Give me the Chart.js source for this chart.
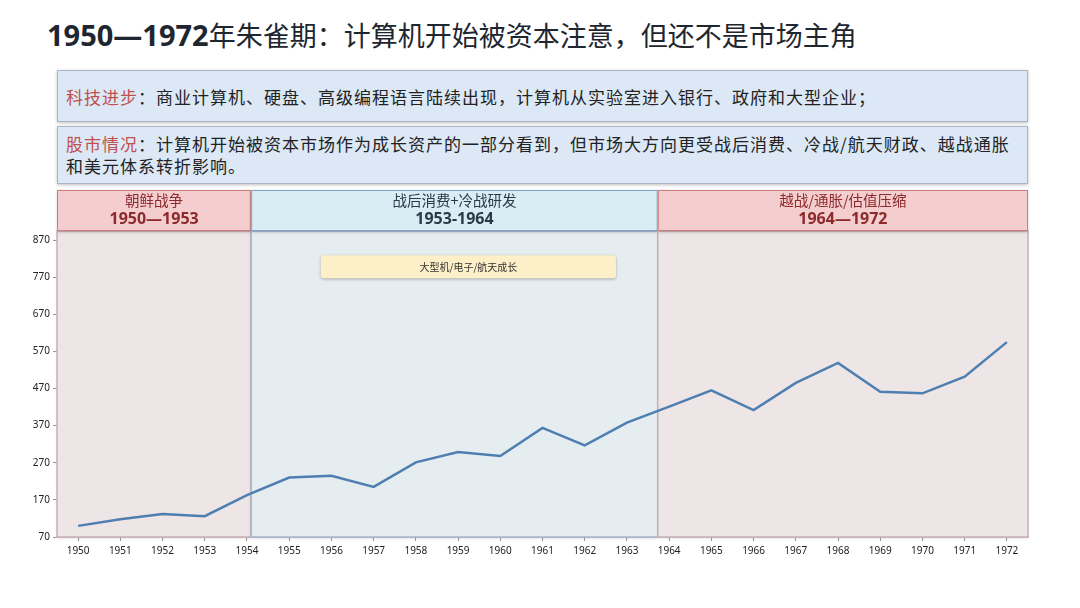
<!DOCTYPE html>
<html>
<head>
<meta charset="utf-8">
<script src="https://cdn.jsdelivr.net/npm/chart.js@4.4.1/dist/chart.umd.min.js"></script>
<style>
  body { margin: 0; width: 1080px; height: 608px; background: #fff; font-family: "Noto Sans CJK SC", "Noto Sans", sans-serif; position: relative; overflow: hidden; }
  .title { position: absolute; left: 47px; top: 15px; font-size: 27px; color: #1e2630; white-space: nowrap; }
  .title b { font-family: "Noto Sans", sans-serif; font-weight: 700; font-size: 29px; }
  .box { position: absolute; left: 57px; width: 971px; background: #dce8f5; border: 1px solid #a9b7c5; box-shadow: 0 1px 3px rgba(0,0,0,0.25); box-sizing: border-box; font-size: 17px; letter-spacing: 1px; color: #222; padding-left: 8px; white-space: nowrap; }
  .box .k { color: #c0504d; }
  #box1 { top: 70px; height: 52px; line-height: 52px; }
  #box2 { top: 126px; height: 58px; line-height: 22px; padding-top: 6px; }
  #wrap { position: absolute; left: 0; top: 185px; width: 1080px; height: 423px; }
</style>
</head>
<body>
<div class="title"><b>1950—1972</b>年朱雀期：计算机开始被资本注意，但还不是市场主角</div>
<div class="box" id="box1"><span class="k">科技进步</span>：商业计算机、硬盘、高级编程语言陆续出现，计算机从实验室进入银行、政府和大型企业；</div>
<div class="box" id="box2"><span class="k">股市情况</span>：计算机开始被资本市场作为成长资产的一部分看到，但市场大方向更受战后消费、冷战/航天财政、越战通胀<br>和美元体系转折影响。</div>
<div id="wrap"><canvas id="myChart"></canvas></div>
<script>
const years = ['1950','1951','1952','1953','1954','1955','1956','1957','1958','1959','1960','1961',
               '1962','1963','1964','1965','1966','1967','1968','1969','1970','1971','1972'];
const index = [100, 118, 132, 126, 183, 230, 235, 205, 271, 299, 288, 364,
               317, 378, 421, 465, 412, 485, 539, 461, 457, 502, 595];
const yTicks = [70, 170, 270, 370, 470, 570, 670, 770, 870];

// phases (category index units)
const bandNames = ['朝鲜战争', '战后消费+冷战研发', '越战/通胀/估值压缩'];
const bandYears = ['1950—1953', '1953-1964', '1964—1972'];
const bandFrom = [-0.5, 4.1, 13.73];
const bandTo = [4.1, 13.73, 22.5];
const bandKind = ['red', 'blue', 'red'];

const noteText = ['大型机/电子/航天成长'];
const noteX = [5.75, 12.74];
const noteY = [829, 767];

const palette = {
    red:  { fill: '#ede5e6', edge: '#c8b1b6', head: '#f4cdce', headEdge: '#cf7c7e', text: '#8c2a2c' },
    blue: { fill: '#e6edf0', edge: '#a8b5cd', head: '#d9edf4', headEdge: '#7fa5c6', text: '#2c3a48' }
};

const phasePlugin = {
    id: 'phases',
    beforeDatasetsDraw(chart) {
        const { ctx, chartArea: a, scales: { x, y } } = chart;
        const bTop = a.top - 9;
        ctx.save();
        bandFrom.forEach((f, i) => {
            const c = palette[bandKind[i]];
            const x0 = x.getPixelForValue(f), x1 = x.getPixelForValue(bandTo[i]);
            ctx.shadowColor = 'rgba(0,0,0,0.18)';
            ctx.shadowBlur = 3;
            ctx.shadowOffsetY = 1;
            ctx.fillStyle = c.fill;
            ctx.fillRect(x0, bTop, x1 - x0, a.bottom - bTop);
            ctx.shadowColor = 'transparent';
            ctx.strokeStyle = c.edge;
            ctx.lineWidth = 1.5;
            ctx.strokeRect(x0, bTop, x1 - x0, a.bottom - bTop);

            // header
            const h = 41, top = bTop - h;
            ctx.shadowColor = 'rgba(0,0,0,0.25)';
            ctx.shadowBlur = 3;
            ctx.shadowOffsetY = 1;
            ctx.fillStyle = c.head;
            ctx.fillRect(x0, top, x1 - x0, h);
            ctx.shadowColor = 'transparent';
            ctx.strokeStyle = c.headEdge;
            ctx.lineWidth = 1;
            ctx.strokeRect(x0 + 0.5, top + 0.5, x1 - x0 - 1, h - 1);
            ctx.fillStyle = c.text;
            ctx.textAlign = 'center';
            ctx.textBaseline = 'middle';
            ctx.font = '14.5px "Noto Sans CJK SC"';
            ctx.fillText(bandNames[i], (x0 + x1) / 2, top + 10);
            ctx.font = 'bold 16px "Noto Sans", "Noto Sans CJK SC"';
            ctx.fillText(bandYears[i], (x0 + x1) / 2, top + 29);
        });
        // note box
        const nx0 = x.getPixelForValue(noteX[0]), nx1 = x.getPixelForValue(noteX[1]);
        const ny0 = y.getPixelForValue(noteY[0]), ny1 = y.getPixelForValue(noteY[1]);
        ctx.shadowColor = 'rgba(0,0,0,0.3)';
        ctx.shadowBlur = 3;
        ctx.shadowOffsetY = 1;
        ctx.fillStyle = '#fdf0c9';
        ctx.beginPath();
        ctx.roundRect(nx0, ny0, nx1 - nx0, ny1 - ny0, 3);
        ctx.fill();
        ctx.shadowColor = 'transparent';
        ctx.fillStyle = '#333';
        ctx.font = '10px "Noto Sans CJK SC"';
        ctx.textAlign = 'center';
        ctx.textBaseline = 'middle';
        ctx.fillText(noteText[0], (nx0 + nx1) / 2, (ny0 + ny1) / 2);
        ctx.restore();
    }
};

const ctx = document.getElementById('myChart').getContext('2d');
new Chart(ctx, {
    type: 'line',
    data: {
        labels: years,
        datasets: [{
            data: index,
            borderColor: '#4f7fb1',
            borderWidth: 2.5,
            pointRadius: 0,
            tension: 0,
            fill: false
        }]
    },
    options: {
        responsive: true,
        maintainAspectRatio: false,
        animation: false,
        layout: { padding: { left: 27, right: 52, top: 55, bottom: 46 } },
        plugins: { legend: { display: false }, tooltip: { enabled: false } },
        scales: {
            x: {
                offset: true,
                grid: { drawOnChartArea: false, drawTicks: true, tickLength: 4, color: '#999' },
                border: { color: '#aaa', width: 1.5 },
                ticks: { color: '#222', font: { size: 10, family: 'Noto Sans' }, maxRotation: 0, autoSkip: false, padding: 4 },
                afterFit(s) { s.height = 25; }
            },
            y: {
                min: 70,
                max: 870,
                afterBuildTicks(s) { s.ticks = yTicks.map(v => ({ value: v })); },
                grid: { drawOnChartArea: false, drawTicks: true, tickLength: 4, color: '#999' },
                border: { display: false },
                ticks: { color: '#222', font: { size: 10, family: 'Noto Sans' }, padding: 3 },
                afterFit(s) { s.width = 30; }
            }
        }
    },
    plugins: [phasePlugin]
});
</script>
</body>
</html>
